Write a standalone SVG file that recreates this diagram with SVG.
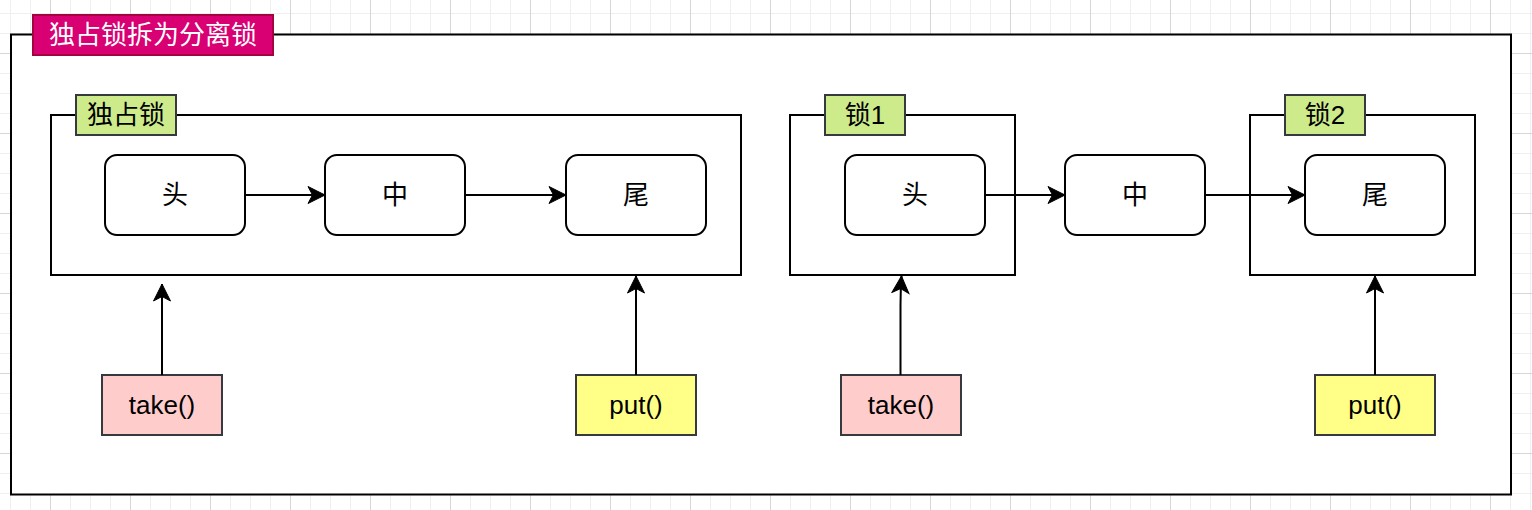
<svg xmlns="http://www.w3.org/2000/svg" width="1532" height="510" viewBox="0 0 1532 510">
  <defs>
    <pattern id="grid" x="50" y="53" width="80" height="80" patternUnits="userSpaceOnUse">
      <path d="M20.5,0 V80 M40.5,0 V80 M60.5,0 V80 M0,20.5 H80 M0,40.5 H80 M0,60.5 H80" stroke="#efefef" stroke-width="1" fill="none"/>
      <path d="M0.5,0 V80 M0,0.5 H80" stroke="#d6d6d6" stroke-width="1" fill="none"/>
    </pattern>
    <marker id="arrow" markerUnits="userSpaceOnUse" markerWidth="20" markerHeight="20" viewBox="-18 -10 20 20" refX="0" refY="0" orient="auto">
      <path d="M0,0 L-17,-8.5 L-12.5,0 L-17,8.5 Z" fill="#000" stroke="#000" stroke-width="1" stroke-linejoin="miter"/>
    </marker>
    <style>
      text { font-family: "Liberation Sans", "Noto Sans CJK SC", sans-serif; font-size: 26px; text-anchor: middle; dominant-baseline: central; fill: #000; }
      .group { fill: none; stroke: #000; stroke-width: 2; }
      .label { fill: #cdeb8b; stroke: #36393d; stroke-width: 2; }
      .node { fill: #fff; stroke: #000; stroke-width: 2; }
      .take { fill: #ffcccc; stroke: #36393d; stroke-width: 2; }
      .put { fill: #ffff88; stroke: #36393d; stroke-width: 2; }
      .edge { fill: none; stroke: #000; stroke-width: 2; marker-end: url(#arrow); }
    </style>
  </defs>

  <rect x="0" y="0" width="1532" height="510" fill="#fff"/>
  <rect x="0" y="0" width="1532" height="510" fill="url(#grid)"/>

  <g id="outer">
    <rect x="11" y="34.5" width="1500" height="460" fill="#fff" stroke="#000" stroke-width="2"/>
    <rect x="33" y="15" width="240" height="40" fill="#d80073" stroke="#a50040" stroke-width="2"/>
    <text x="153" y="35" style="fill:#fff">独占锁拆为分离锁</text>
  </g>

  <g id="group-exclusive">
    <rect class="group" x="51" y="115" width="690" height="160"/>
    <rect class="label" x="76" y="95" width="100" height="40"/>
    <text x="126" y="115">独占锁</text>
  </g>
  <g id="group-lock1">
    <rect class="group" x="790" y="115" width="225" height="160"/>
    <rect class="label" x="825" y="95" width="80" height="40"/>
    <text x="865" y="115">锁1</text>
  </g>
  <g id="group-lock2">
    <rect class="group" x="1250" y="115" width="225" height="160"/>
    <rect class="label" x="1285" y="95" width="80" height="40"/>
    <text x="1325" y="115">锁2</text>
  </g>

  <g id="node-head-a"><rect class="node" x="105" y="155" width="140" height="80" rx="12"/><text x="175" y="195">头</text></g>
  <g id="node-mid-a"><rect class="node" x="325" y="155" width="140" height="80" rx="12"/><text x="395" y="195">中</text></g>
  <g id="node-tail-a"><rect class="node" x="566" y="155" width="140" height="80" rx="12"/><text x="636" y="195">尾</text></g>
  <g id="node-head-b"><rect class="node" x="845" y="155" width="140" height="80" rx="12"/><text x="915" y="195">头</text></g>
  <g id="node-mid-b"><rect class="node" x="1065" y="155" width="140" height="80" rx="12"/><text x="1135" y="195">中</text></g>
  <g id="node-tail-b"><rect class="node" x="1305" y="155" width="140" height="80" rx="12"/><text x="1375" y="195">尾</text></g>

  <g id="node-take-a"><rect class="take" x="102" y="375" width="120" height="60"/><text x="162" y="405">take()</text></g>
  <g id="node-put-a"><rect class="put" x="576" y="375" width="120" height="60"/><text x="636" y="405">put()</text></g>
  <g id="node-take-b"><rect class="take" x="841" y="375" width="120" height="60"/><text x="901" y="405">take()</text></g>
  <g id="node-put-b"><rect class="put" x="1315" y="375" width="120" height="60"/><text x="1375" y="405">put()</text></g>

  <g id="connectors">
    <path class="edge" d="M245,195 H325"/>
    <path class="edge" d="M465,195 H566"/>
    <path class="edge" d="M985,195 H1065"/>
    <path class="edge" d="M1205,195 H1305"/>
    <path class="edge" d="M162,375 V284"/>
    <path class="edge" d="M636,375 V276"/>
    <path class="edge" d="M900.5,375 V305 Q900.5,292 901.5,276"/>
    <path class="edge" d="M1375,375 V276"/>
  </g>
</svg>
